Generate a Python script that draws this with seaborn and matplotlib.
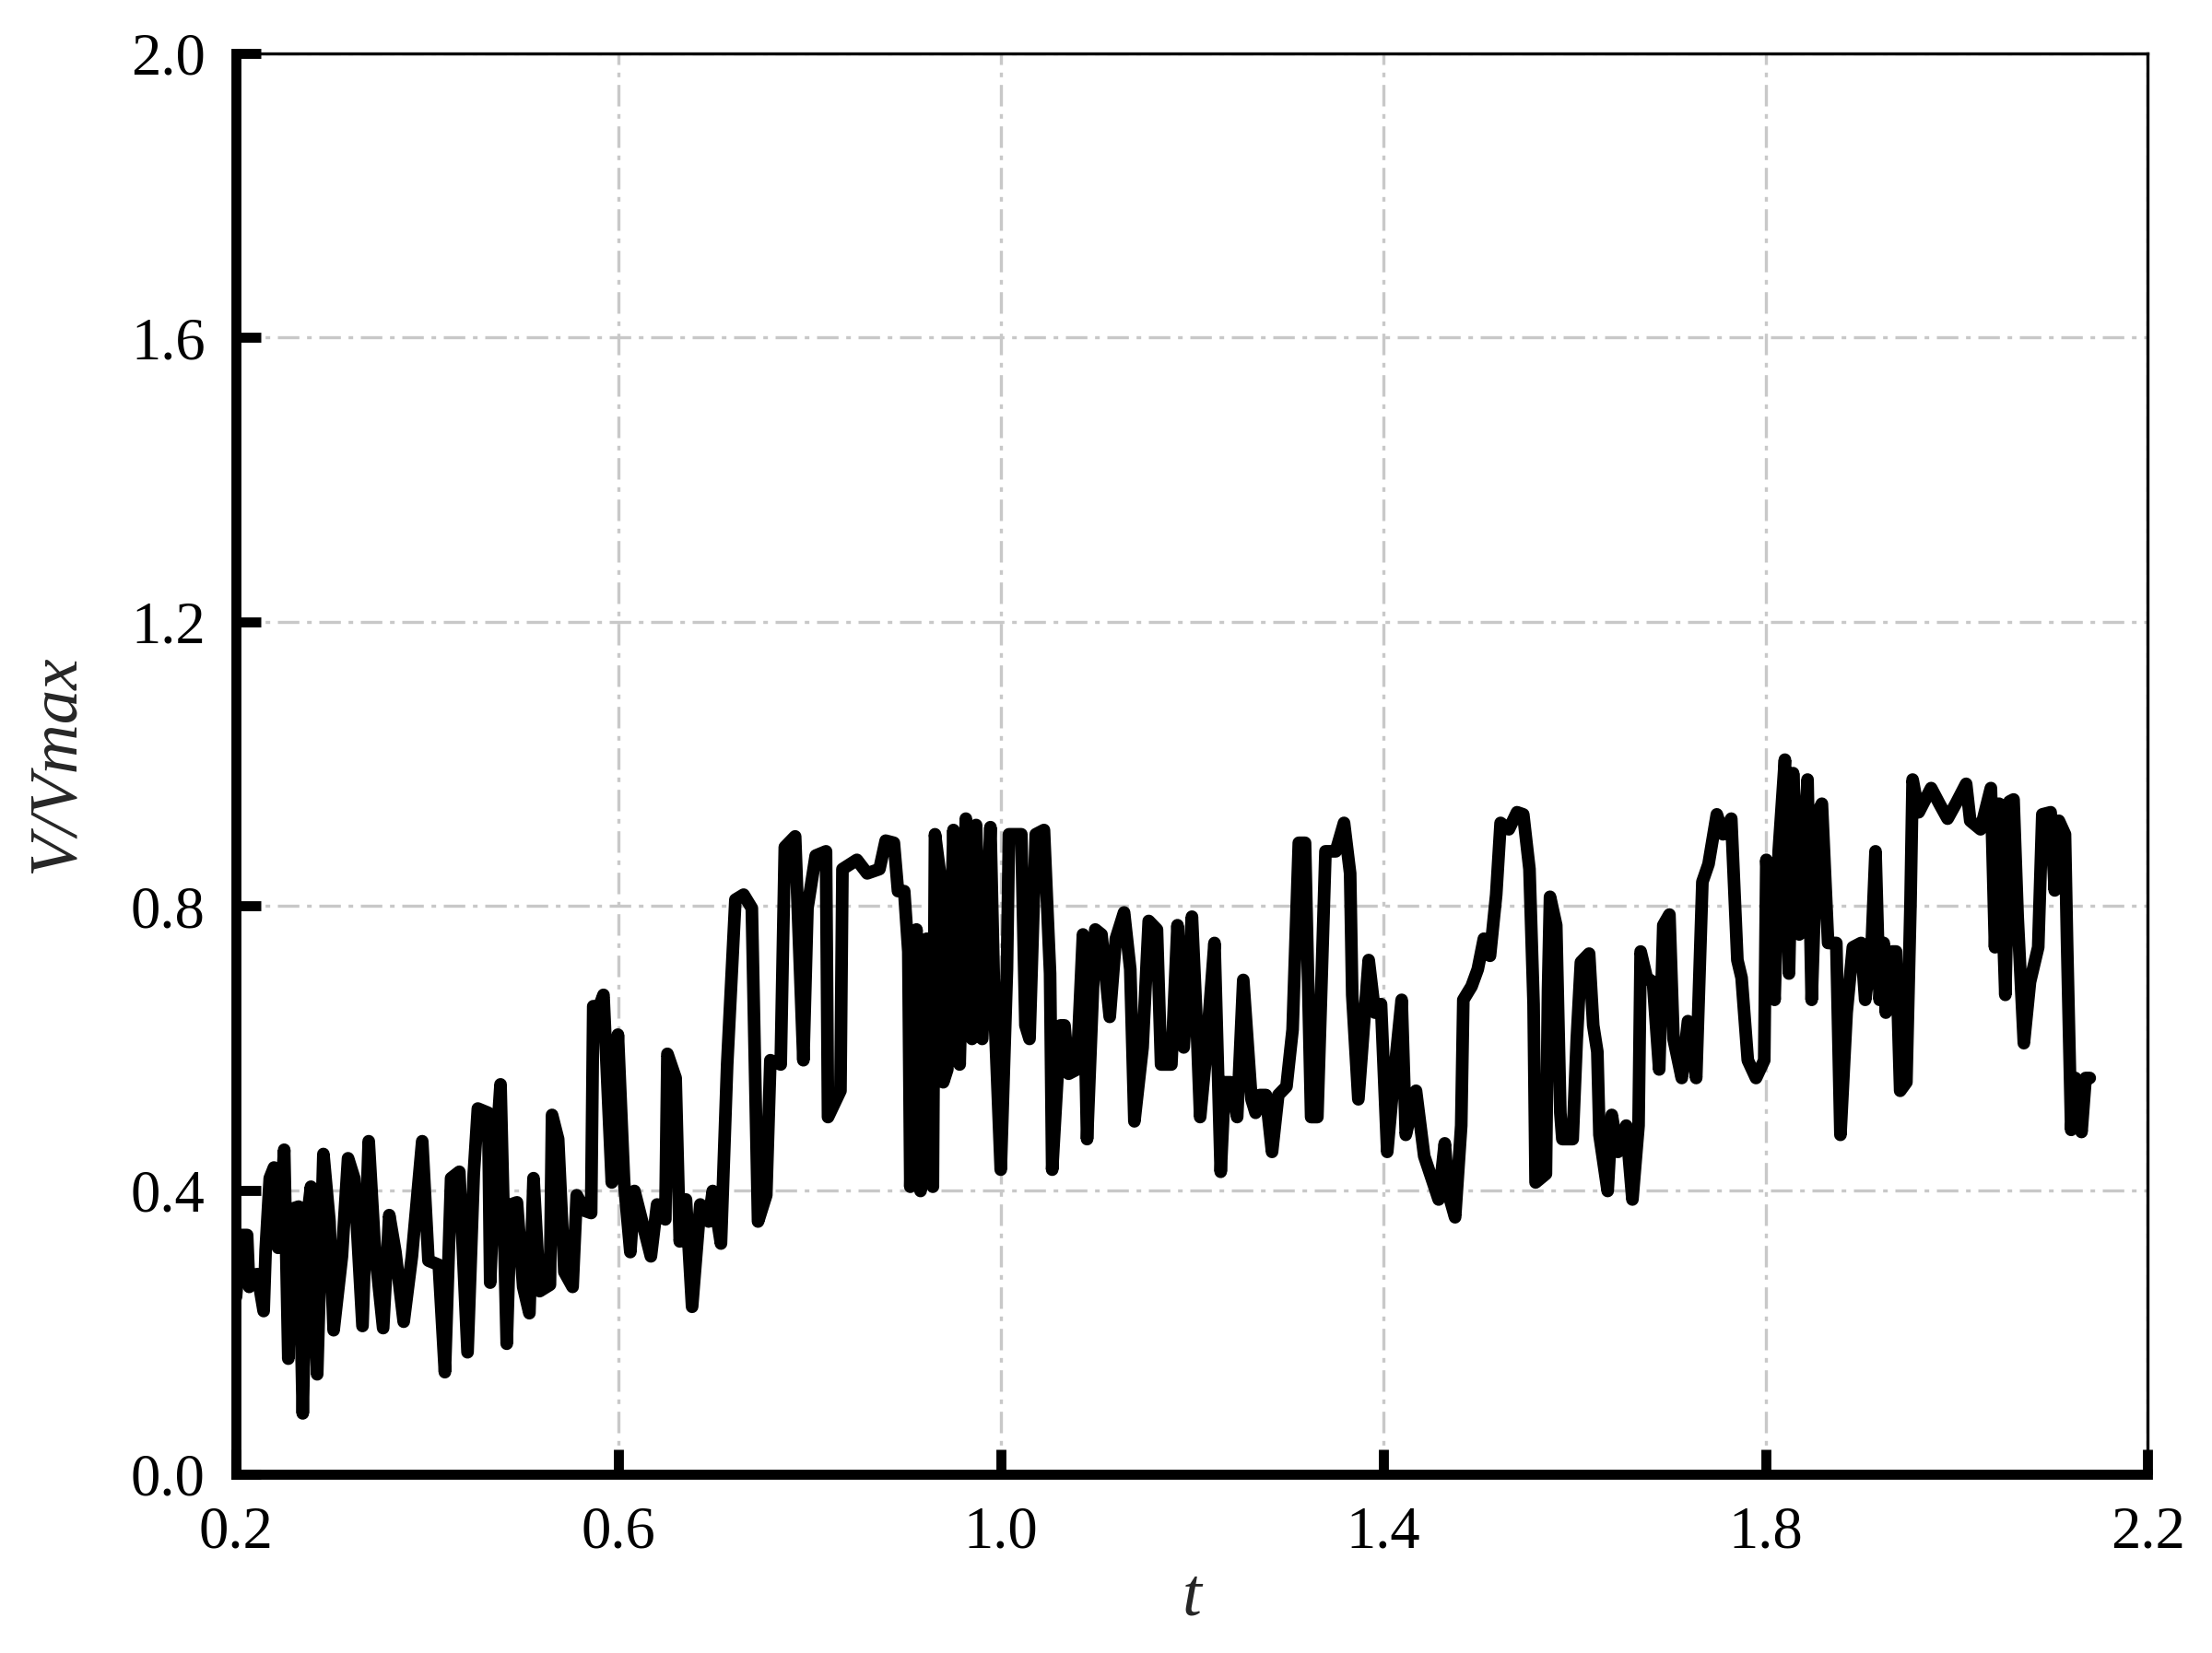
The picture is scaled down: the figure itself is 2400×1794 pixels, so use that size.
import numpy as np
import pandas as pd
import matplotlib
matplotlib.use("Agg")
import matplotlib.pyplot as plt
import seaborn as sns

# ---- data (t, V/Vmax) ----
t_part1 = [0.2000, 0.2052, 0.2116, 0.2138, 0.2224, 0.2289, 0.2310, 0.2353, 0.2397, 0.2440,
           0.2504, 0.2547, 0.2590, 0.2655, 0.2698, 0.2741, 0.2784, 0.2849, 0.2914, 0.2978,
           0.3021, 0.3108, 0.3172, 0.3237, 0.3323, 0.3388, 0.3452, 0.3539, 0.3603, 0.3668,
           0.3754, 0.3840, 0.3948, 0.4013, 0.4121, 0.4185, 0.4250, 0.4336, 0.4422, 0.4487,
           0.4530, 0.4638, 0.4659, 0.4702, 0.4767, 0.4832, 0.4875, 0.4939, 0.5004, 0.5069,
           0.5112, 0.5176, 0.5284, 0.5306, 0.5370, 0.5435, 0.5521, 0.5564, 0.5651, 0.5715,
           0.5737, 0.5801, 0.5844, 0.5931, 0.5995, 0.6060, 0.6125, 0.6168, 0.6340, 0.6405,
           0.6491, 0.6513, 0.6599, 0.6642, 0.6707, 0.6771, 0.6857, 0.6944, 0.6987, 0.7073,
           0.7138, 0.7224, 0.7310, 0.7396, 0.7461, 0.7547, 0.7590, 0.7698, 0.7741, 0.7849,
           0.7935, 0.7978, 0.8064, 0.8172, 0.8193, 0.8323, 0.8344, 0.8495]
v_part1 = [0.250, 0.337, 0.337, 0.264, 0.282, 0.230, 0.316, 0.417, 0.432, 0.319,
           0.457, 0.163, 0.374, 0.377, 0.086, 0.356, 0.405, 0.141, 0.451, 0.356,
           0.203, 0.307, 0.445, 0.417, 0.209, 0.469, 0.319, 0.206, 0.365, 0.313,
           0.215, 0.307, 0.469, 0.301, 0.295, 0.144, 0.417, 0.426, 0.172, 0.423,
           0.515, 0.509, 0.270, 0.417, 0.549, 0.184, 0.380, 0.383, 0.264, 0.227,
           0.417, 0.258, 0.267, 0.506, 0.472, 0.285, 0.264, 0.393, 0.371, 0.368,
           0.659, 0.659, 0.675, 0.411, 0.619, 0.411, 0.313, 0.399, 0.307, 0.380,
           0.359, 0.592, 0.558, 0.328, 0.387, 0.236, 0.380, 0.356, 0.399, 0.325,
           0.577, 0.809, 0.816, 0.797, 0.356, 0.393, 0.583, 0.577, 0.883, 0.898,
           0.583, 0.797, 0.871, 0.877, 0.503, 0.540, 0.852, 0.865]

t_part2 = [0.8603, 0.8731, 0.8796, 0.8882, 0.8925, 0.8990, 0.9033, 0.9054, 0.9118, 0.9161,
           0.9226, 0.9290, 0.9312, 0.9376, 0.9398, 0.9441, 0.9505, 0.9570, 0.9635, 0.9699,
           0.9742, 0.9806, 0.9892, 0.9935, 1.0000, 1.0065, 1.0086, 1.0215, 1.0258, 1.0301,
           1.0366, 1.0452, 1.0516, 1.0538, 1.0624, 1.0667, 1.0710, 1.0796, 1.0860, 1.0903,
           1.0989, 1.1054, 1.1140, 1.1204, 1.1290, 1.1355, 1.1398, 1.1484, 1.1548, 1.1634,
           1.1677, 1.1785, 1.1849, 1.1914, 1.2000, 1.2043, 1.2086, 1.2150, 1.2236, 1.2301,
           1.2344, 1.2408, 1.2473, 1.2537, 1.2623, 1.2666, 1.2709, 1.2774, 1.2838, 1.2903,
           1.2989, 1.3053, 1.3118, 1.3183, 1.3247, 1.3312, 1.3397, 1.3505, 1.3591, 1.3655,
           1.3677, 1.3741, 1.3849, 1.3914, 1.3978, 1.4043, 1.4108, 1.4194, 1.4237, 1.4344,
           1.4430, 1.4581, 1.4645, 1.4688, 1.4753, 1.4817, 1.4839, 1.4925, 1.4990, 1.5054,
           1.5118, 1.5183]
v_part2 = [0.846, 0.852, 0.892, 0.889, 0.821, 0.821, 0.736, 0.405, 0.767, 0.399,
           0.754, 0.405, 0.901, 0.834, 0.552, 0.570, 0.907, 0.577, 0.923, 0.613,
           0.914, 0.613, 0.911, 0.650, 0.429, 0.711, 0.901, 0.901, 0.632, 0.613,
           0.901, 0.907, 0.705, 0.429, 0.632, 0.632, 0.564, 0.570, 0.760, 0.472,
           0.767, 0.760, 0.644, 0.754, 0.791, 0.711, 0.497, 0.601, 0.779, 0.767,
           0.577, 0.577, 0.773, 0.601, 0.785, 0.656, 0.503, 0.595, 0.748, 0.426,
           0.552, 0.552, 0.503, 0.696, 0.528, 0.509, 0.534, 0.534, 0.454, 0.534,
           0.546, 0.626, 0.889, 0.889, 0.503, 0.503, 0.877, 0.877, 0.917, 0.846,
           0.675, 0.528, 0.724, 0.650, 0.662, 0.454, 0.552, 0.668, 0.478, 0.540,
           0.448, 0.387, 0.466, 0.393, 0.362, 0.491, 0.668, 0.687, 0.711, 0.754,
           0.730, 0.816]

t_part3 = [1.5229, 1.5315, 1.5401, 1.5466, 1.5531, 1.5574, 1.5595, 1.5703, 1.5725, 1.5746,
           1.5811, 1.5854, 1.5875, 1.5983, 1.6026, 1.6069, 1.6155, 1.6198, 1.6241, 1.6263,
           1.6349, 1.6392, 1.6457, 1.6543, 1.6608, 1.6672, 1.6694, 1.6758, 1.6823, 1.6888,
           1.6931, 1.6995, 1.7038, 1.7124, 1.7189, 1.7275, 1.7340, 1.7404, 1.7491, 1.7555,
           1.7642, 1.7706, 1.7750, 1.7815, 1.7901, 1.7987, 1.8009, 1.8095, 1.8138, 1.8203,
           1.8246, 1.8289, 1.8353, 1.8440, 1.8483, 1.8547, 1.8590, 1.8655, 1.8741, 1.8784,
           1.8849, 1.8914, 1.9000, 1.9043, 1.9108, 1.9151, 1.9194, 1.9237, 1.9259, 1.9323,
           1.9366, 1.9409, 1.9474, 1.9517, 1.9539, 1.9603, 1.9733, 1.9819, 1.9905, 1.9991,
           2.0099, 2.0142, 2.0250, 2.0358, 2.0401, 2.0444, 2.0509, 2.0552, 2.0595, 2.0638,
           2.0703, 2.0767, 2.0853, 2.0896, 2.0983, 2.1026, 2.1069, 2.1133, 2.1155, 2.1198,
           2.1241, 2.1306, 2.1349, 2.1392]
v_part3 = [0.917, 0.908, 0.932, 0.929, 0.852, 0.662, 0.411, 0.423, 0.681, 0.813,
           0.773, 0.509, 0.472, 0.472, 0.613, 0.721, 0.733, 0.632, 0.595, 0.478,
           0.399, 0.506, 0.454, 0.491, 0.387, 0.491, 0.736, 0.699, 0.693, 0.570,
           0.773, 0.788, 0.613, 0.558, 0.638, 0.558, 0.834, 0.859, 0.929, 0.901,
           0.923, 0.724, 0.699, 0.583, 0.558, 0.583, 0.865, 0.668, 0.877, 1.006,
           0.705, 0.987, 0.760, 0.978, 0.668, 0.932, 0.944, 0.748, 0.748, 0.478,
           0.650, 0.742, 0.748, 0.668, 0.736, 0.877, 0.668, 0.748, 0.650, 0.736,
           0.736, 0.540, 0.552, 0.803, 0.978, 0.932, 0.966, 0.944, 0.923, 0.944,
           0.972, 0.920, 0.908, 0.966, 0.742, 0.944, 0.675, 0.947, 0.950, 0.785,
           0.607, 0.693, 0.742, 0.929, 0.932, 0.822, 0.920, 0.901, 0.748, 0.485,
           0.558, 0.482, 0.558, 0.558]

x_ticks = [0.2, 0.6, 1.0, 1.4, 1.8, 2.2]
y_ticks = [0.0, 0.4, 0.8, 1.2, 1.6, 2.0]
x_label = "t"
y_label = "V/Vmax"

df = pd.DataFrame({
    "t": t_part1 + t_part2 + t_part3,
    "v": v_part1 + v_part2 + v_part3,
})

sns.set_theme(style="white")
plt.rcParams["font.family"] = ["Liberation Serif", "DejaVu Serif"]

fig = plt.figure(figsize=(8.0, 5.98), dpi=300)
ax = fig.add_axes([0.1067, 0.108, 0.8643, 0.8597])

ax.grid(True, color="#c8c8c8", linewidth=0.8, linestyle=(0, (7, 2.5, 1.5, 2.5)))
ax.set_axisbelow(True)

sns.lineplot(data=df, x="t", y="v", ax=ax, color="black", linewidth=3.3,
             estimator=None, sort=False, zorder=3)
for ln in ax.get_lines():
    ln.set_solid_joinstyle("round")
    ln.set_solid_capstyle("round")

ax.set_xlim(0.2, 2.2)
ax.set_ylim(0.0, 2.0)
ax.set_xticks(x_ticks)
ax.set_yticks(y_ticks)
ax.set_xticklabels([f"{v:.1f}" for v in x_ticks])
ax.set_yticklabels([f"{v:.1f}" for v in y_ticks])

for side in ["left", "bottom"]:
    ax.spines[side].set_linewidth(2.6)
    ax.spines[side].set_color("black")
for side in ["top", "right"]:
    ax.spines[side].set_linewidth(0.8)
    ax.spines[side].set_color("black")
    ax.spines[side].set_visible(True)

ax.tick_params(axis="both", which="major", direction="in", length=6.5, width=2.6,
               color="black", labelsize=15.5, pad=8, labelcolor="black",
               top=False, right=False, left=True, bottom=True)

ax.set_xlabel(x_label, fontsize=18, fontstyle="italic", labelpad=2)
ax.set_ylabel(y_label, fontsize=18, fontstyle="italic", labelpad=11)

fig.savefig("out.png", dpi=300)
